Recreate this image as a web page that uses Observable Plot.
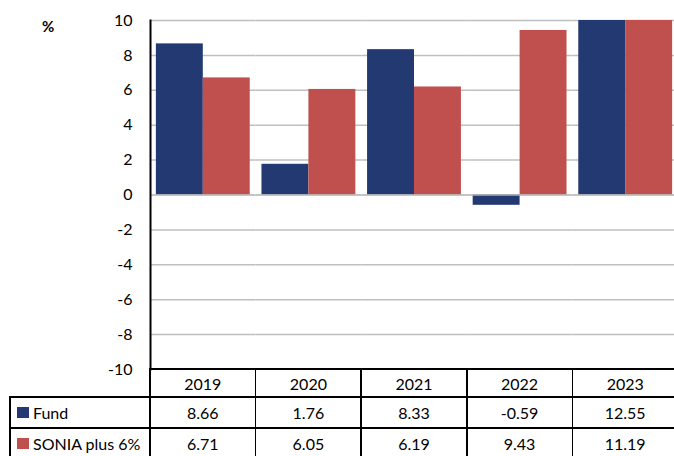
<!DOCTYPE html>
<html><head><meta charset="utf-8">
<script src="https://cdn.jsdelivr.net/npm/d3@7"></script>
<script src="https://cdn.jsdelivr.net/npm/@observablehq/plot@0.6"></script>
<style>
html,body{margin:0;padding:0;background:#fff;}
#wrap{position:relative;width:674px;height:456px;overflow:hidden;font-family:Lato,sans-serif;color:#000;}
#wrap svg{position:absolute;left:0;top:0;max-width:none !important;}
.cell{position:absolute;box-sizing:border-box;display:flex;align-items:center;justify-content:center;font-size:16px;white-space:nowrap;}
.lab{justify-content:flex-start;}
.ln{position:absolute;background:#000;}
.sq{display:inline-block;width:12px;height:11px;margin:0 4px 0 7px;}
#pct{position:absolute;left:42px;top:17px;font-size:15px;font-weight:bold;}
</style></head><body><div id="wrap"><div id="pct">%</div></div>
<script>
const years = ["2019","2020","2021","2022","2023"];
const fund = [8.66, 1.76, 8.33, -0.59, 12.55];
const sonia = [6.71, 6.05, 6.19, 9.43, 11.19];
const seriesNames = ["Fund", "SONIA plus 6%"];
const seriesValues = [fund, sonia];
const colors = ["#223a71", "#c0504d"];
const yTicks = [-10, -8, -6, -4, -2, 0, 2, 4, 6, 8, 10];
const tableValues = [["8.66","1.76","8.33","-0.59","12.55"],["6.71","6.05","6.19","9.43","11.19"]];

const rows = years.flatMap((year, i) => seriesNames.map((s, k) => ({year, series: s, value: seriesValues[k][i]})));

const W = 678, H = 456, mL = 150, mT = 20, mB = 87;
const plot = Plot.plot({
  width: W, height: H, marginLeft: mL, marginRight: 0, marginTop: mT, marginBottom: mB,
  style: {fontFamily: "Lato, sans-serif", fontSize: "16px", color: "#000", background: "transparent", overflow: "visible", maxWidth: "none"},
  fx: {domain: years, padding: 0, round: false, axis: null},
  x: {domain: seriesNames, paddingInner: 0, paddingOuter: 0.125, round: false, axis: null},
  y: {domain: [-10, 10], clamp: true},
  color: {domain: seriesNames, range: colors},
  marks: [
    Plot.ruleY(yTicks.filter(t => t !== 0 && t !== -10), {stroke: "#bfbfbf", strokeWidth: 1.5}),
    Plot.barY(rows, {fx: "year", x: "series", y: "value", fill: "series"}),
    Plot.ruleY([0], {stroke: "#b0b0b0", strokeWidth: 1.5}),
    Plot.axisY({ticks: yTicks, tickSize: 0, tickPadding: 18, label: null, tickFormat: d => String(d), fill: "#000"}),
    Plot.frame({anchor: "left", facetAnchor: "left", stroke: "#000", strokeWidth: 2})
  ]
});
const wrap = document.getElementById("wrap");
wrap.appendChild(plot);

// table under the chart, aligned on the fx scale
const fxS = plot.scale("fx");
const yS = plot.scale("y");
const bw = fxS.bandwidth;
const colX = years.map(y => fxS.apply(y));
const top0 = yS.apply(-10);
const rowH = [28, 31, 31];
const rowTop = [top0, top0 + rowH[0], top0 + rowH[0] + rowH[1], top0 + rowH[0] + rowH[1] + rowH[2]];
const labelLeft = 10;
const lw = 1.5;
function line(x, y, w, h) {
  const d = document.createElement("div");
  d.className = "ln";
  Object.assign(d.style, {left: x + "px", top: y + "px", width: w + "px", height: h + "px"});
  wrap.appendChild(d);
}
function cell(x, y, w, h, html, cls) {
  const d = document.createElement("div");
  d.className = "cell" + (cls ? " " + cls : "");
  Object.assign(d.style, {left: x + "px", top: y + "px", width: w + "px", height: h + "px"});
  d.innerHTML = html;
  wrap.appendChild(d);
}
const right = colX[colX.length - 1] + bw;
// horizontal lines
line(mL - lw / 2, rowTop[0] - lw / 2, right - mL + lw, lw);
for (let r = 1; r <= 3; r++) line(labelLeft - lw / 2, rowTop[r] - lw / 2, right - labelLeft + lw, lw);
// vertical lines
line(labelLeft - lw / 2, rowTop[1], lw, rowTop[3] - rowTop[1]);
colX.forEach(x => line(x - lw / 2, rowTop[0], lw, rowTop[3] - rowTop[0]));
line(right - lw / 2, rowTop[0], lw, rowTop[3] - rowTop[0]);
// header
years.forEach((y, i) => cell(colX[i], rowTop[0], bw, rowH[0], y));
// data rows
seriesNames.forEach((s, k) => {
  cell(labelLeft, rowTop[k + 1], mL - labelLeft, rowH[k + 1], `<span class="sq" style="background:${colors[k]}"></span>${s}`, "lab");
  years.forEach((y, i) => cell(colX[i], rowTop[k + 1], bw, rowH[k + 1], tableValues[k][i]));
});
</script>
</body></html>
